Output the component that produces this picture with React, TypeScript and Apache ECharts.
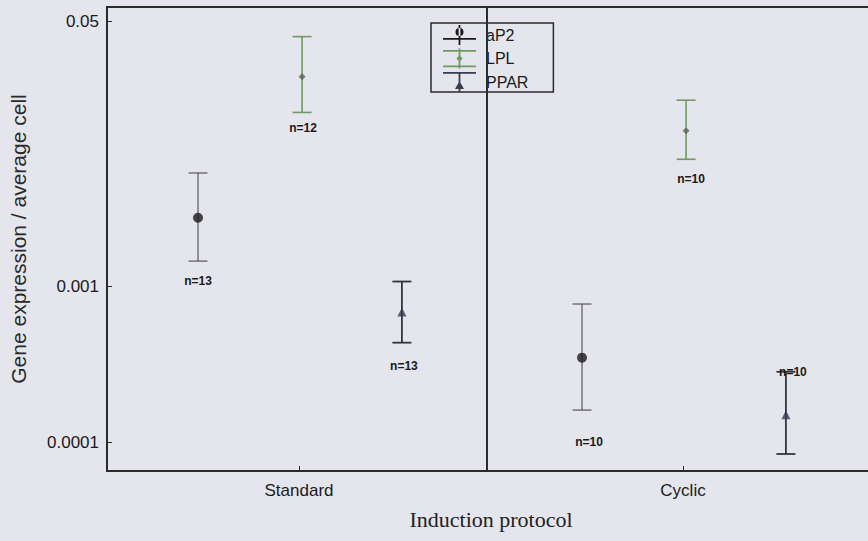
import React, { useEffect, useRef } from "react";
import * as echarts from "echarts";

// ---- data ----
const categories = ["Standard", "Cyclic"];
const genes = ["aP2", "LPL", "PPAR"];

const aP2Mean = [0.00277, 0.000351];
const aP2Low = [0.00146, 0.000162];
const aP2High = [0.00536, 0.000775];
const aP2N = [13, 10];

const lplMean = [0.0222, 0.01];
const lplLow = [0.0131, 0.00656];
const lplHigh = [0.0401, 0.0157];
const lplN = [12, 10];

const pparMean = [0.000689, 0.000151];
const pparLow = [0.000438, 0.0000847];
const pparHigh = [0.00108, 0.000285];
const pparN = [13, 10];

const yTickValues = [0.0001, 0.001, 0.05];
const yTickLabels = ["0.0001", "0.001", "0.05"];
const yMin = 0.0000659;
const yMax = 0.0621;

// ---- layout / style ----
const FONT = "'Liberation Sans', Arial, sans-serif";
const SERIF = "'Liberation Serif', 'Times New Roman', serif";
const BG = "#e5e5ed";
const INK = "#1a1a1a";
const dividerX = 1.49;
const dodge = [-0.263, 0.008, 0.268];
// n-label offsets (px) relative to the lower cap, per gene per category
const nLabelDx = [[0, 7], [1, 5], [2, 7]];
const nLabelDy = [[20, 32], [16, 20], [23, -82]];

const geneMeans = [aP2Mean, lplMean, pparMean];
const geneLows = [aP2Low, lplLow, pparLow];
const geneHighs = [aP2High, lplHigh, pparHigh];
const geneNs = [aP2N, lplN, pparN];
const barColors = ["#4a4a4a", "#6f9a62", "#34343f"];
const barWidths = [1.1, 1.6, 1.8];
const markerColors = ["#1a1a1a", "#56664f", "#3a3a50"];
const markerSymbols = ["circle", "diamond", "triangle"];
const markerSizes = [10, 7, 9];
const legendIcons = [
  "path://M0,0H0.01V0.01H0Z M15.6,0H17.4V20H15.6Z M12.5,7 a4,4 0 1,0 8,0 a4,4 0 1,0 -8,0Z M0,13H33V14.8H0Z",
  "path://M0,1.5H33V3.3H0Z M15.6,0H17.4V20H15.6Z M16.5,6.5 L19.5,10 L16.5,13.5 L13.5,10Z M0,17H33V18.8H0Z",
  "path://M0,0H33V1.8H0Z M15.6,0H17.4V20H15.6Z M16.5,9 L21,17 L12,17Z",
];

function buildSeries(): any[] {
  const series: any[] = [];
  genes.forEach((g, gi) => {
    const errData = categories.map((_, ci) => [
      ci + 1 + dodge[gi],
      geneLows[gi][ci],
      geneHighs[gi][ci],
      geneNs[gi][ci],
    ]);
    series.push({
      name: g,
      type: "custom",
      silent: true,
      data: errData,
      encode: { x: 0, y: [1, 2] },
      renderItem: (params: any, api: any) => {
        const x = api.value(0);
        const pLo = api.coord([x, api.value(1)]);
        const pHi = api.coord([x, api.value(2)]);
        const half = 9.5;
        const style = { stroke: barColors[gi], lineWidth: barWidths[gi] };
        const ci = params.dataIndex;
        return {
          type: "group",
          children: [
            { type: "line", shape: { x1: pLo[0], y1: pHi[1], x2: pLo[0], y2: pLo[1] }, style },
            { type: "line", shape: { x1: pLo[0] - half, y1: pHi[1], x2: pLo[0] + half, y2: pHi[1] }, style },
            { type: "line", shape: { x1: pLo[0] - half, y1: pLo[1], x2: pLo[0] + half, y2: pLo[1] }, style },
            {
              type: "text",
              x: pLo[0] + nLabelDx[gi][ci],
              y: pLo[1] + nLabelDy[gi][ci],
              style: {
                text: "n=" + api.value(3),
                align: "center",
                verticalAlign: "middle",
                font: "bold 12px " + FONT,
                fill: INK,
              },
            },
          ],
        };
      },
      z: 2,
    });
    series.push({
      name: g,
      type: "scatter",
      silent: true,
      symbol: markerSymbols[gi],
      symbolSize: markerSizes[gi],
      itemStyle: { color: markerColors[gi] },
      data: categories.map((_, ci) => [ci + 1 + dodge[gi], geneMeans[gi][ci]]),
      z: 3,
      ...(gi === 0
        ? {
            markLine: {
              silent: true,
              symbol: "none",
              label: { show: false },
              lineStyle: { color: "#2b2b2b", width: 2, type: "solid" },
              data: [{ xAxis: dividerX }],
            },
          }
        : {}),
    });
  });
  return series;
}

export default function App() {
  const ref = useRef<HTMLDivElement>(null);
  useEffect(() => {
    if (!ref.current) return;
    const chart = echarts.init(ref.current, undefined, { renderer: "svg" });
    chart.setOption({
      animation: false,
      backgroundColor: BG,
      grid: {
        left: 107,
        top: 7,
        width: 768,
        height: 464,
        outerBoundsMode: "none",
        containLabel: false,
        show: true,
        borderColor: "#2b2b2b",
        borderWidth: 2,
        backgroundColor: "transparent",
      },
      legend: {
        orient: "vertical",
        left: 431,
        top: 23,
        align: "left",
        itemWidth: 33,
        itemHeight: 20,
        itemGap: 3.5,
        padding: [2, 25, 0, 12],
        borderColor: "#2b2b2b",
        borderWidth: 1.5,
        backgroundColor: BG,
        selectedMode: false,
        textStyle: { fontFamily: FONT, fontSize: 16, color: INK, padding: [0, 0, 0, 5] },
        data: genes.map((g, gi) => ({
          name: g,
          icon: legendIcons[gi],
          itemStyle: { color: gi === 1 ? barColors[1] : markerColors[gi] },
        })),
      },
      xAxis: {
        type: "value",
        min: 0.5,
        max: 2.5,
        axisLine: { show: false },
        splitLine: { show: false },
        axisTick: {
          show: true,
          inside: true,
          length: 5,
          customValues: [1, 2],
          lineStyle: { color: "#2b2b2b", width: 1 },
        },
        axisLabel: {
          customValues: [1, 2],
          formatter: (v: number) => categories[Math.round(v) - 1] ?? "",
          fontFamily: FONT,
          fontSize: 17,
          color: INK,
          margin: 11,
        },
        name: "Induction protocol",
        nameLocation: "middle",
        nameGap: 37,
        nameTextStyle: { fontFamily: SERIF, fontSize: 22, color: "#222" },
      },
      yAxis: {
        type: "log",
        logBase: 10,
        min: yMin,
        max: yMax,
        axisLine: { show: false },
        splitLine: { show: false },
        minorTick: { show: false },
        axisTick: {
          show: true,
          inside: true,
          length: 5,
          customValues: yTickValues,
          lineStyle: { color: "#2b2b2b", width: 1 },
        },
        axisLabel: {
          customValues: yTickValues,
          formatter: (v: number) => {
            const i = yTickValues.findIndex((t) => Math.abs(Math.log10(t) - Math.log10(v)) < 1e-6);
            return i >= 0 ? yTickLabels[i] : "";
          },
          fontFamily: FONT,
          fontSize: 17,
          color: INK,
          margin: 8,
        },
        name: "Gene expression / average cell",
        nameLocation: "middle",
        nameGap: 78,
        nameTextStyle: { fontFamily: FONT, fontSize: 21, color: "#2a2a2a" },
      },
      series: buildSeries(),
    });
    return () => chart.dispose();
  }, []);
  return (
    <div
      ref={ref}
      style={{ position: "fixed", left: 0, top: 0, width: 868, height: 541, background: BG }}
    />
  );
}
